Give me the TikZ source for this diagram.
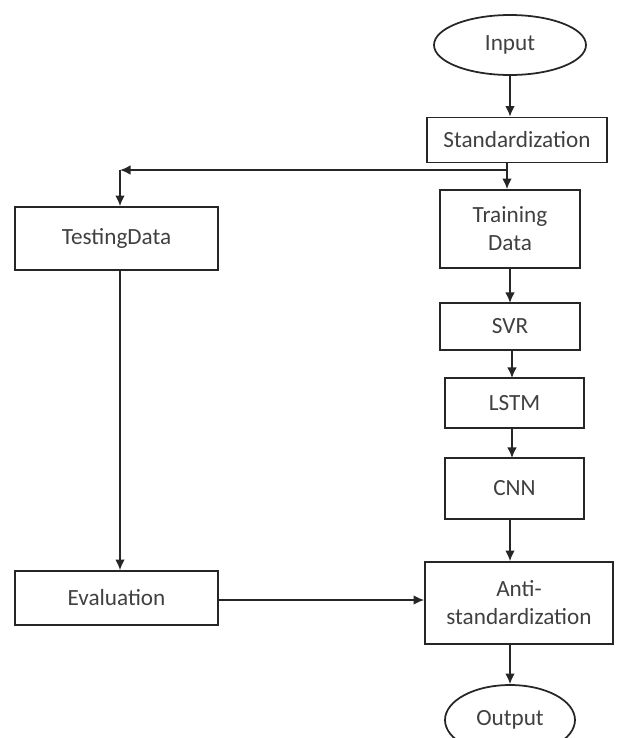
\documentclass[tikz,border=0pt]{standalone}
\usepackage{fontspec}
\setmainfont{Carlito}
\usetikzlibrary{positioning,shapes.geometric,arrows.meta}
\begin{document}
\begin{tikzpicture}[x=0.02cm, y=-0.02cm, line width=1pt, draw=black!85, font=\fontsize{13.2}{16}\selectfont,
		>={Latex[length=6pt,width=5.5pt]},
		box/.style={rectangle, draw, text centered, align=center, text=black!75},
		term/.style={ellipse, draw, text centered, text=black!75}]
		\useasboundingbox (0,0) rectangle (621,738);
		\node (input) [term, minimum width=3.04cm, minimum height=1.2cm] at (510,45) {Input};
		\node (std) [box, minimum width=3.6cm, minimum height=0.9cm] at (517,140) {Standardization};
		\node (train) [box, minimum width=2.8cm, minimum height=1.56cm] at (510,229) {Training\\Data};
		\node (test) [box, minimum width=4.06cm, minimum height=1.26cm] at (116.5,238.5) {TestingData};
		\node (svr) [box, minimum width=2.8cm, minimum height=0.94cm] at (510,326.5) {SVR};
		\node (lstm) [box, minimum width=2.78cm, minimum height=1cm] at (514.5,403) {LSTM};
		\node (cnn) [box, minimum width=2.78cm, minimum height=1.22cm] at (514.5,488.5) {CNN};
		\node (anti) [box, minimum width=3.76cm, minimum height=1.64cm] at (519,603) {Anti-\\standardization};
		\node (eval) [box, minimum width=4.06cm, minimum height=1.08cm] at (116.5,598) {Evaluation};
		\node (output) [term, minimum width=2.6cm, minimum height=1.4cm] at (510,720) {Output};
		
		\coordinate (split) at (507,170);
		\coordinate (corner) at (120,170);
		\draw[->] (input) -- (input |- std.north);
		\draw[->] (split |- std.south) -- (split |- train.north);
		\draw[->] (split) -- (corner);
		\draw[->] (corner) -- (corner |- test.north);
		\draw[->] (510,268) -- (510,303);
		\draw[->] (512,350) -- (512,378);
		\draw[->] (512,428) -- (512,458);
		\draw[->] (cnn.south -| 510,0) -- (anti.north -| 510,0);
		\draw[->] (corner |- test.south) -- (corner |- eval.north);
		\draw[->] (eval.east |- 0,600) -- (anti.west |- 0,600);
		\draw[->] (anti.south -| 510,0) -- (output);
	\end{tikzpicture}
\end{document}
